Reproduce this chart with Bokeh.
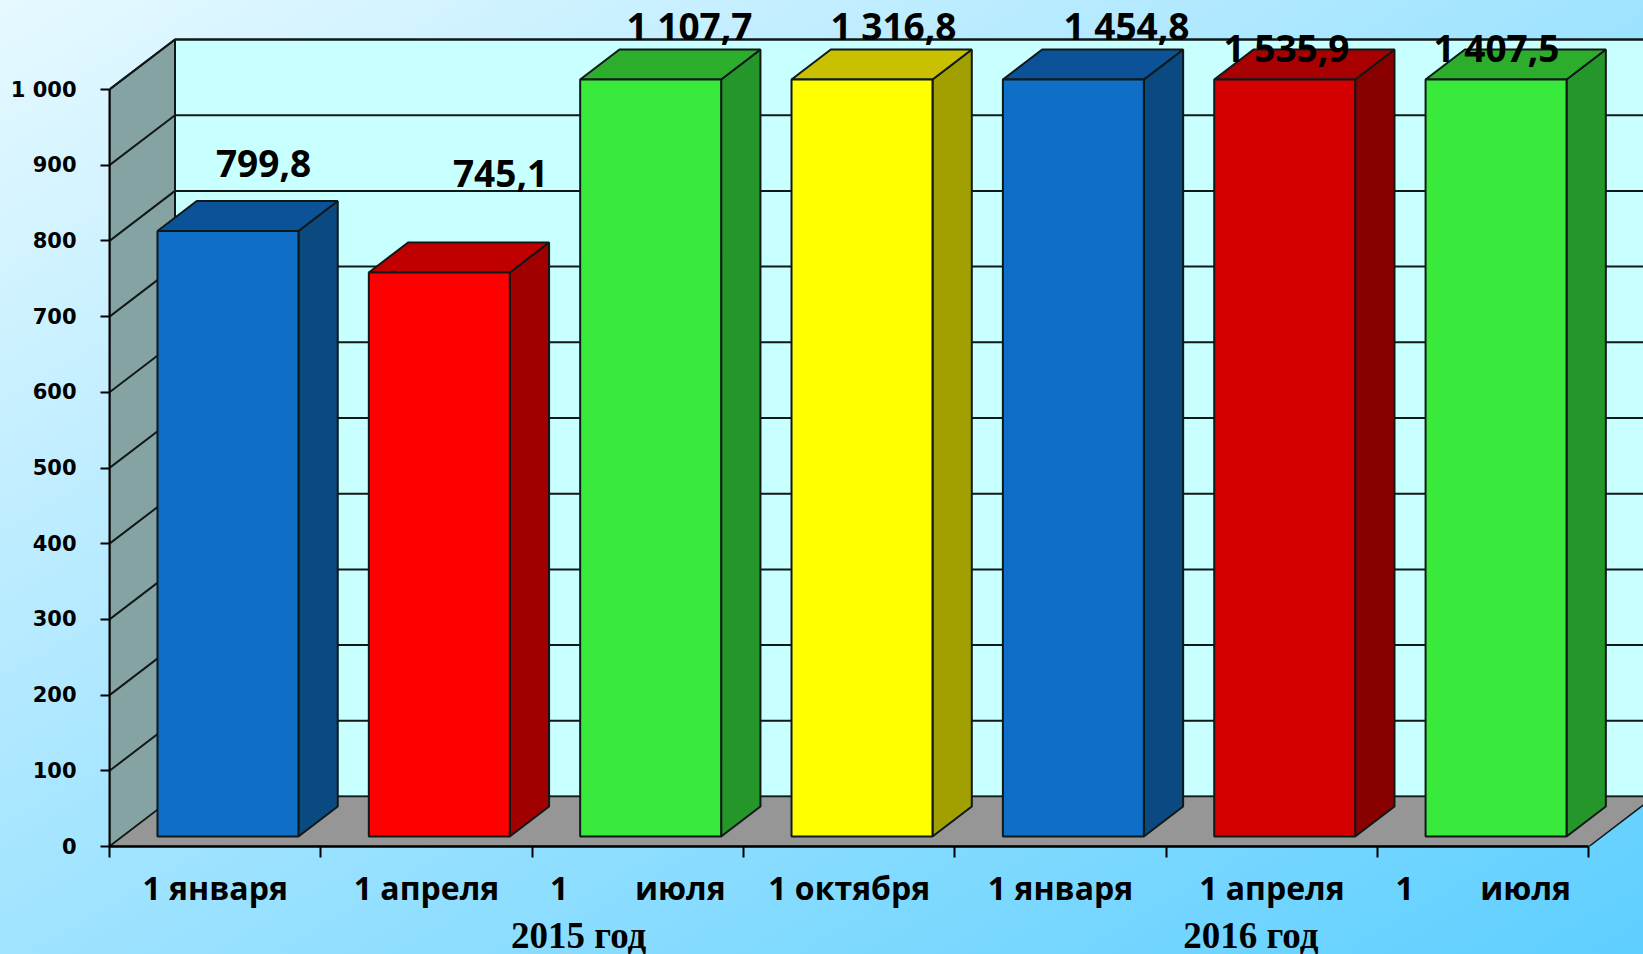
from bokeh.plotting import figure
from bokeh.models import LinearAxis, FixedTicker, Range1d
from bokeh.core.properties import value
from bokeh.embed import file_html
from bokeh.resources import INLINE

# ---- data ----
GAP = "\u00a0" * 8
categories = ["1 января", "1 апреля", "1" + GAP + "июля", "1 октября",
              "1 января", "1 апреля", "1" + GAP + "июля"]
values = [799.8, 745.1, 1107.7, 1316.8, 1454.8, 1535.9, 1407.5]
year_labels = ["2015 год", "2016 год"]
y_ticks = [0, 100, 200, 300, 400, 500, 600, 700, 800, 900, 1000]
AXIS_MAX = 1000

# ---- colours ----
front_colors = ["#0F6FC6", "#FF0000", "#39EA3C", "#FFFF00", "#0F6FC6", "#D40000", "#39EA3C"]
top_colors = ["#0B5299", "#C00000", "#2CAD2C", "#C8C000", "#0B5299", "#A80000", "#2CAD2C"]
side_colors = ["#0A4A80", "#A00000", "#24962A", "#A2A000", "#0A4A80", "#880000", "#24962A"]
BACK_WALL, SIDE_WALL, FLOOR, INK = "#C8FFFF", "#86A3A3", "#969696", "#101818"

# ---- layout (screen pixels) ----
W, H = 1643, 954
LEFT, BASE = 109, 846
PX_CAT, PX_UNIT = 211.35, 0.757
DEPTH_X, DEPTH_Y = 65.5 / PX_CAT, 50 / PX_UNIT
XMAX, YMAX = (W - LEFT) / PX_CAT, BASE / PX_UNIT
n = len(values)
label_px = [(263, 163), (500, 173), (689, 25), (893, 25), (1126, 25), (1286, 47), (1496, 47)]
year_pos = [2.22, 5.40]


def proj(cat, val, d):
    return cat + d * DEPTH_X, val + d * DEPTH_Y


def poly(pts):
    pp = [proj(*q) for q in pts]
    return [q[0] for q in pp], [q[1] for q in pp]


def fmt(v):
    s = f"{v:,.1f}".replace(",", " ").replace(".", ",")
    return s


p = figure(width=W, height=H, frame_width=W - LEFT, frame_height=BASE,
           x_range=Range1d(0, XMAX), y_range=Range1d(0, YMAX),
           output_backend="svg", toolbar_location=None,
           min_border_left=LEFT, min_border_right=0, min_border_top=0,
           min_border_bottom=H - BASE, x_axis_type=None, y_axis_type=None,
           background_fill_color=None, border_fill_color=None, outline_line_color=None)
p.grid.visible = False
p.styles = {"position": "absolute", "left": "0", "top": "0",
            "background": "linear-gradient(to bottom right, #E6F9FF 0%, #9FE3FF 50%, #5ECFFF 100%)"}

# walls and floor
xs, ys = poly([(0, 0, 1), (n, 0, 1), (n, AXIS_MAX, 1), (0, AXIS_MAX, 1)])
p.patch(xs, ys, fill_color=BACK_WALL, line_color=INK, line_width=2)
xs, ys = poly([(0, 0, 0), (0, 0, 1), (0, AXIS_MAX, 1), (0, AXIS_MAX, 0)])
p.patch(xs, ys, fill_color=SIDE_WALL, line_color=INK, line_width=2)
xs, ys = poly([(0, 0, 0), (0, 0, 1), (n, 0, 1), (n, 0, 0)])
p.patch(xs, ys, fill_color=FLOOR, line_color=INK, line_width=1.5)

# gridlines: back wall and side wall
gx, gy = [], []
for t in y_ticks[1:]:
    x_, y_ = poly([(0, t, 0), (0, t, 1), (n, t, 1)])
    gx.append(x_)
    gy.append(y_)
p.multi_line(gx, gy, line_color=INK, line_width=2)

# bars
B0, B1 = 0.165, 0.832
D0, D1 = 0.2, 0.8
px, py, pc = [], [], []
for i, v in enumerate(values):
    h = min(v, AXIS_MAX)
    l, r = i + B0, i + B1
    for pts, c in (
        ([(r, 0, D0), (r, 0, D1), (r, h, D1), (r, h, D0)], side_colors[i]),
        ([(l, h, D0), (l, h, D1), (r, h, D1), (r, h, D0)], top_colors[i]),
        ([(l, 0, D0), (r, 0, D0), (r, h, D0), (l, h, D0)], front_colors[i]),
    ):
        x_, y_ = poly(pts)
        px.append(x_)
        py.append(y_)
        pc.append(c)
p.patches(px, py, fill_color=pc, line_color=INK, line_width=2)

# value labels
p.text([(q[0] - LEFT) / PX_CAT for q in label_px], [(BASE - q[1]) / PX_UNIT for q in label_px],
       text=[fmt(v) for v in values], text_font=value("Open Sans"), text_font_style="bold",
       text_font_size="37px", text_color="#000000", text_align="center", text_baseline="middle")

# axes
yax = LinearAxis(ticker=FixedTicker(ticks=y_ticks, minor_ticks=[]), bounds=(0, AXIS_MAX),
                 major_label_overrides={t: fmt(t).replace(",0", "") for t in y_ticks},
                 major_tick_in=0, major_tick_out=9, major_label_standoff=24,
                 axis_line_color="#000000", axis_line_width=2,
                 major_tick_line_color="#000000", major_tick_line_width=2,
                 major_label_text_font="DejaVu Sans", major_label_text_font_style="bold",
                 major_label_text_font_size="21px", major_label_text_color="#000000")
p.add_layout(yax, "left")

centers = [i + 0.5 for i in range(n)]
xax = LinearAxis(ticker=FixedTicker(ticks=centers, minor_ticks=list(range(n + 1))), bounds=(0, n),
                 major_label_overrides=dict(zip(centers, categories)),
                 major_tick_in=0, major_tick_out=0, minor_tick_in=0, minor_tick_out=11,
                 major_label_standoff=8,
                 axis_line_color="#000000", axis_line_width=2.5,
                 minor_tick_line_color="#000000", minor_tick_line_width=2,
                 major_label_text_font="Open Sans", major_label_text_font_style="bold",
                 major_label_text_font_size="32px", major_label_text_color="#000000")
p.add_layout(xax, "below")

yr = LinearAxis(ticker=FixedTicker(ticks=year_pos, minor_ticks=[]),
                major_label_overrides=dict(zip(year_pos, year_labels)),
                axis_line_color=None, major_tick_line_color=None, major_tick_in=0, major_tick_out=0,
                major_label_standoff=3,
                major_label_text_font="Liberation Serif", major_label_text_font_style="bold",
                major_label_text_font_size="37px", major_label_text_color="#000000")
p.add_layout(yr, "below")

open("out.html", "w").write(file_html(p, INLINE))
